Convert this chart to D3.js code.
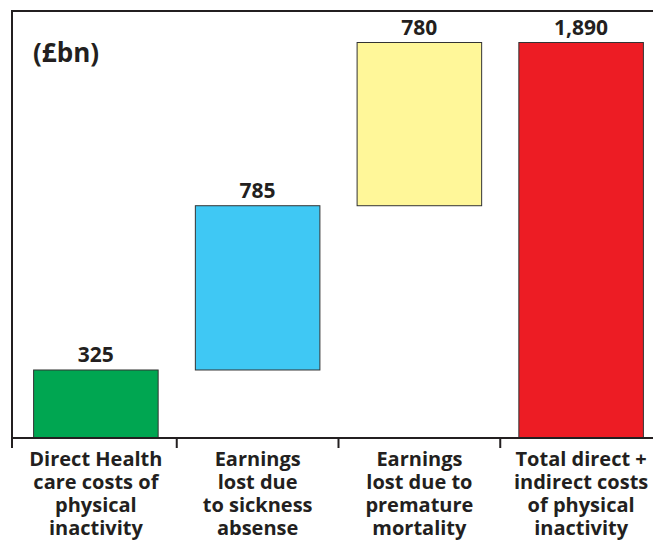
<!DOCTYPE html>
<html>
<head>
<meta charset="utf-8">
<script src="https://cdn.jsdelivr.net/npm/d3@7"></script>
<style>
  body { margin: 0; background: #fff; }
  text { font-family: "Open Sans", sans-serif; fill: #231f20; }
</style>
</head>
<body>
<svg width="653" height="542"></svg>
<script>
var categories = ["Direct Health care costs of physical inactivity",
    "Earnings lost due to sickness absense",
    "Earnings lost due to premature mortality",
    "Total direct + indirect costs of physical inactivity"];
var labelLines = [
    ["Direct Health", "care costs of", "physical", "inactivity"],
    ["Earnings", "lost due", "to sickness", "absense"],
    ["Earnings", "lost due to", "premature", "mortality"],
    ["Total direct +", "indirect costs", "of physical", "inactivity"]];
var values = [325, 785, 780, 1890];
var valueLabels = ["325", "785", "780", "1,890"];
var isTotal = [false, false, false, true];
var colors = ["#00a651", "#3fc8f4", "#fff799", "#ed1c24"];
var unitLabel = "(£bn)";

var svg = d3.select("svg"),
    frameLeft = 12, frameTop = 11, axisY = 438;

// waterfall: each step starts where the previous one ended
var running = 0;
var bars = values.map(function(v, i) {
    var start = isTotal[i] ? 0 : running;
    var end = isTotal[i] ? v : running + v;
    if (!isTotal[i]) running += v;
    return {cat: categories[i], start: start, end: end, label: valueLabels[i], color: colors[i], lines: labelLines[i]};
});

var x = d3.scaleBand()
    .domain(categories)
    .range([15, 662])
    .paddingInner(0.23)
    .paddingOuter(0.115);

var y = d3.scaleLinear()
    .domain([0, 1890])
    .range([axisY, 42.5]);

var pad = x.step() * 0.115;

// frame
svg.append("path")
    .attr("d", "M" + frameLeft + "," + (axisY + 10) + "V" + frameTop + "H653")
    .attr("fill", "none")
    .attr("stroke", "#231f20")
    .attr("stroke-width", 2);

svg.append("text")
    .attr("x", 33)
    .attr("y", 62)
    .attr("font-size", 26)
    .attr("font-weight", 700)
    .text(unitLabel);

svg.selectAll("rect.bar").data(bars).enter().append("rect")
    .attr("class", "bar")
    .attr("x", function(d) { return x(d.cat); })
    .attr("width", x.bandwidth())
    .attr("y", function(d) { return y(d.end); })
    .attr("height", function(d) { return y(d.start) - y(d.end); })
    .attr("fill", function(d) { return d.color; })
    .attr("stroke", "#333")
    .attr("stroke-width", 1);

svg.selectAll("text.val").data(bars).enter().append("text")
    .attr("class", "val")
    .attr("x", function(d) { return x(d.cat) + x.bandwidth() / 2; })
    .attr("y", function(d) { return y(d.end) - 8; })
    .attr("text-anchor", "middle")
    .attr("font-size", 21)
    .attr("font-weight", 700)
    .text(function(d) { return d.label; });

// x axis
svg.append("line")
    .attr("x1", frameLeft).attr("x2", 653)
    .attr("y1", axisY).attr("y2", axisY)
    .attr("stroke", "#231f20").attr("stroke-width", 2);

svg.selectAll("line.tick").data(categories.slice(1)).enter().append("line")
    .attr("class", "tick")
    .attr("x1", function(d) { return x(d) - pad; })
    .attr("x2", function(d) { return x(d) - pad; })
    .attr("y1", axisY).attr("y2", axisY + 10)
    .attr("stroke", "#231f20").attr("stroke-width", 2);

var lab = svg.selectAll("text.cat").data(bars).enter().append("text")
    .attr("class", "cat")
    .attr("text-anchor", "middle")
    .attr("font-size", 20)
    .attr("font-weight", 700);

lab.selectAll("tspan").data(function(d) {
        return d.lines.map(function(l) { return {t: l, cx: x(d.cat) + x.bandwidth() / 2}; });
    }).enter().append("tspan")
    .attr("x", function(d) { return d.cx; })
    .attr("y", function(d, i) { return 466 + i * 23; })
    .text(function(d) { return d.t; });
</script>
</body>
</html>
